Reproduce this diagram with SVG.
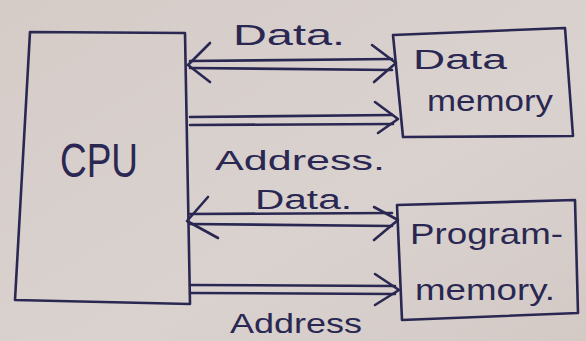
<svg xmlns="http://www.w3.org/2000/svg" width="586" height="341" viewBox="0 0 586 341">
  <defs>
    <linearGradient id="paper" x1="0" y1="0" x2="1" y2="1">
      <stop offset="0" stop-color="#d5ccc8"/>
      <stop offset="0.6" stop-color="#dad2cf"/>
      <stop offset="1" stop-color="#d3cac6"/>
    </linearGradient>
    <style>
      .ink { fill: none; stroke: #2a2852; stroke-width: 2.6; stroke-linecap: round; stroke-linejoin: round; }
      .lbl { fill: #2a2852; font-family: "Liberation Sans", "DejaVu Sans", sans-serif; }
    </style>
  </defs>

  <rect width="586" height="341" fill="url(#paper)"/>

  <!-- processor block -->
  <g id="cpu">
    <path class="ink" d="M30,32 L185,33 L190,304 L15,300 Z"/>
    <text class="lbl" x="60" y="177" font-size="48" textLength="78" lengthAdjust="spacingAndGlyphs">CPU</text>
  </g>

  <!-- data memory block -->
  <g id="data-memory">
    <path class="ink" d="M393,35 L565,28 L573,136 L403,137 Z"/>
    <text class="lbl" x="413" y="69" font-size="27" textLength="94" lengthAdjust="spacingAndGlyphs">Data</text>
    <text class="lbl" x="427" y="111" font-size="30" textLength="126" lengthAdjust="spacingAndGlyphs">memory</text>
  </g>

  <!-- program memory block -->
  <g id="program-memory">
    <path class="ink" d="M397,205 L575,200 L578,313 L402,320 Z"/>
    <text class="lbl" x="410" y="244" font-size="30" textLength="153" lengthAdjust="spacingAndGlyphs">Program-</text>
    <text class="lbl" x="415" y="300" font-size="30" textLength="140" lengthAdjust="spacingAndGlyphs">memory.</text>
  </g>

  <!-- buses -->
  <g id="connectors">
    <!-- data bus to data memory (two-way) -->
    <path class="ink" d="M190,61 L392,59 M190,68 L392,70"/>
    <path class="ink" d="M210,43 L188,65 L210,82"/>
    <path class="ink" d="M372,45 L396,63 L374,82"/>
    <!-- address bus to data memory -->
    <path class="ink" d="M190,117 L392,115 M190,125 L393,124"/>
    <path class="ink" d="M375,102 L398,119 L378,133"/>
    <!-- data bus to program memory (two-way) -->
    <path class="ink" d="M190,214 L392,213 M190,224 L392,226"/>
    <path class="ink" d="M208,197 L187,221 L218,238"/>
    <path class="ink" d="M374,207 L398,220 L374,240"/>
    <!-- address bus to program memory -->
    <path class="ink" d="M190,285 L395,286 M190,293 L395,294"/>
    <path class="ink" d="M375,274 L399,290 L375,305"/>
  </g>

  <!-- bus labels -->
  <g id="bus-labels">
    <text class="lbl" x="233" y="45" font-size="30" textLength="112" lengthAdjust="spacingAndGlyphs">Data.</text>
    <text class="lbl" x="215" y="170" font-size="28" textLength="170" lengthAdjust="spacingAndGlyphs">Address.</text>
    <text class="lbl" x="255" y="209" font-size="27" textLength="97" lengthAdjust="spacingAndGlyphs">Data.</text>
    <text class="lbl" x="230" y="333" font-size="28" textLength="132" lengthAdjust="spacingAndGlyphs">Address</text>
  </g>
</svg>
